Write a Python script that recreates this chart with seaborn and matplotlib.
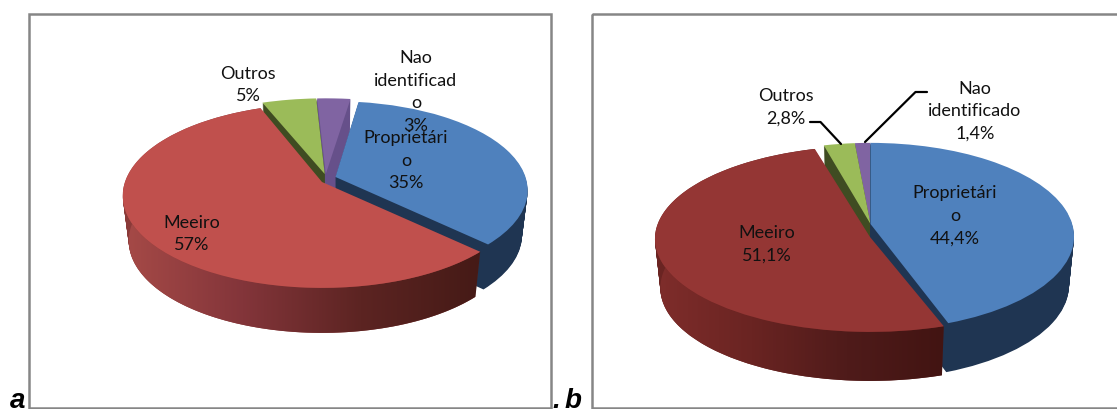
import matplotlib.pyplot as plt
import numpy as np
import seaborn as sns
from matplotlib.colors import LinearSegmentedColormap
from matplotlib.patches import Polygon, Rectangle
from matplotlib.transforms import Transform

# slice order: Proprietario, Meeiro, Outros, Nao identificado
values_a = [35, 57, 5, 3]
values_b = [44.4, 51.1, 2.8, 1.4]
texts_a = ["Proprietári\no\n35%", "Meeiro\n57%", "Outros\n5%", "Nao\nidentificad\no\n3%"]
texts_b = ["Proprietári\no\n44,4%", "Meeiro\n51,1%", "Outros\n2,8%", "Nao\nidentificado\n1,4%"]

FONT = "Lato"
FONT_SIZE = 13
DRAW_ORDER = [3, 2, 0, 1]  # back to front


class Tilt(Transform):
    """Projects the flat unit pie onto a tilted plane, in image pixels."""

    input_dims = 2
    output_dims = 2

    def __init__(self, cx, cy, rx, ry, k, drop=0.0, shrink=1.0):
        super().__init__()
        self.params = (cx, cy, rx, ry, k, drop, shrink)

    def transform_non_affine(self, values):
        cx, cy, rx, ry, k, drop, shrink = self.params
        values = np.asarray(values)
        w = 1 + k * values[:, 1]
        return np.column_stack(
            [cx + shrink * rx * values[:, 0] / w, cy + drop - ry * values[:, 1] / w]
        )


def rim_polygon(wedge, tilt_top, tilt_bottom):
    angles = np.radians(np.linspace(wedge.theta1, wedge.theta2, 120))
    rim = np.column_stack([np.cos(angles), np.sin(angles)])
    top = tilt_top.transform_non_affine(rim)
    bottom = tilt_bottom.transform_non_affine(rim)
    return np.vstack([top, bottom[::-1]])


def draw_pie(ax, values, startangle, geometry, depth, shrink, tops, sides, side_cmap):
    for layer in np.linspace(1, 0, int(depth) + 1):
        wedges, _ = ax.pie(values, startangle=startangle, counterclock=False, wedgeprops={"linewidth": 0})
        for i, wedge in enumerate(wedges):
            tilt = Tilt(*geometry[i], drop=depth * layer, shrink=1 - (1 - shrink) * layer)
            wedge.set_transform(tilt + ax.transData)
            wedge.set_facecolor(tops[i] if layer == 0 else sides[i])
            wedge.set_edgecolor("none")
            base = DRAW_ORDER.index(i) * 10
            wedge.set_zorder(base + 3 if layer == 0 else base + 1)

    # shaded outer wall of the big slice
    wedges, _ = ax.pie(values, startangle=startangle, counterclock=False, wedgeprops={"linewidth": 0})
    wall = rim_polygon(
        wedges[1],
        Tilt(*geometry[1]),
        Tilt(*geometry[1], drop=depth, shrink=shrink),
    )
    for wedge in wedges:
        wedge.remove()
    clip = Polygon(wall, closed=True, transform=ax.transData, facecolor="none", edgecolor="none")
    ax.add_patch(clip)
    x0, x1 = wall[:, 0].min(), wall[:, 0].max()
    y0, y1 = wall[:, 1].min(), wall[:, 1].max()
    image = ax.imshow(
        np.linspace(0, 1, 256).reshape(1, -1),
        cmap=side_cmap,
        extent=(x0, x1, y1, y0),
        aspect="auto",
        zorder=DRAW_ORDER.index(1) * 10 + 2,
    )
    image.set_clip_path(clip)


sns.set_theme(style="white")
plt.rcParams["font.family"] = [FONT, "DejaVu Sans"]

fig = plt.figure(figsize=(11.17, 4.10), dpi=100)
ax = fig.add_axes([0, 0, 1, 1])

palette_a = sns.color_palette(["#4f81bd", "#c0504d", "#9bbb59", "#8064a2"])
sides_a = sns.color_palette(["#1f3552", "#8a3a38", "#3f4c22", "#66508a"])
palette_b = sns.color_palette(["#4f81bd", "#943634", "#9bbb59", "#8064a2"])
sides_b = sns.color_palette(["#1f3552", "#6a2422", "#3f4c22", "#66508a"])

geometry_a = [
    (335.5, 178, 190, 87, 0.15),
    (322, 183, 197, 90, 0.15),
    (324.7, 175, 200, 87, 0.15),
    (325.8, 175, 204, 87, 0.15),
]
geometry_b = [
    (870.5, 225, 201.7, 92, 0.134),
    (870, 238, 215, 93, 0.02),
    (870.5, 225, 201.7, 92, 0.134),
    (870.5, 225, 201.7, 92, 0.134),
]

cmap_a = LinearSegmentedColormap.from_list("wall_a", ["#a64a47", "#83353a", "#5c2422", "#451a16"])
cmap_b = LinearSegmentedColormap.from_list("wall_b", ["#7f2d2b", "#6a2422", "#4f1b1a", "#421412"])

draw_pie(ax, values_a, 82, geometry_a, 45, 0.97, palette_a, sides_a, cmap_a)
draw_pie(ax, values_b, 90, geometry_b, 49, 0.975, palette_b, sides_b, cmap_b)

ax.set_aspect("auto")
ax.set_xlim(0, 1117)
ax.set_ylim(410, 0)
ax.axis("off")

# chart frames
for x, width in [(28.5, 522.5), (592, 540)]:
    ax.add_patch(Rectangle((x, 15), width, 394, facecolor="none", edgecolor="#868686", linewidth=1.8, zorder=1))

label_style = {"ha": "center", "va": "center", "color": "#111111", "fontsize": FONT_SIZE, "linespacing": 1.5, "zorder": 60}
for text, (x, y) in zip(texts_a, [(406, 161), (192, 234), (248, 85), (416, 92)]):
    ax.text(x, y, text, **label_style)
for text, (x, y) in zip(texts_b, [(955, 216), (767, 244), (786, 107), (975, 111)]):
    ax.text(x, y, text, **label_style)

# leader lines
ax.plot([810, 820.5, 841], [123, 123, 145], color="black", linewidth=1.6, zorder=50)
ax.plot([927, 915.5, 865], [93, 93, 143], color="black", linewidth=1.6, zorder=50)

# panel letters
letter_style = {"family": "Liberation Sans", "fontsize": 20, "fontweight": "bold", "fontstyle": "italic", "color": "black", "zorder": 60}
ax.text(10, 408, "a", **letter_style)
ax.text(565, 408, "b", **letter_style)
ax.text(552, 408, ".", **letter_style)

fig.savefig("out.png", dpi=100)
plt.close(fig)
